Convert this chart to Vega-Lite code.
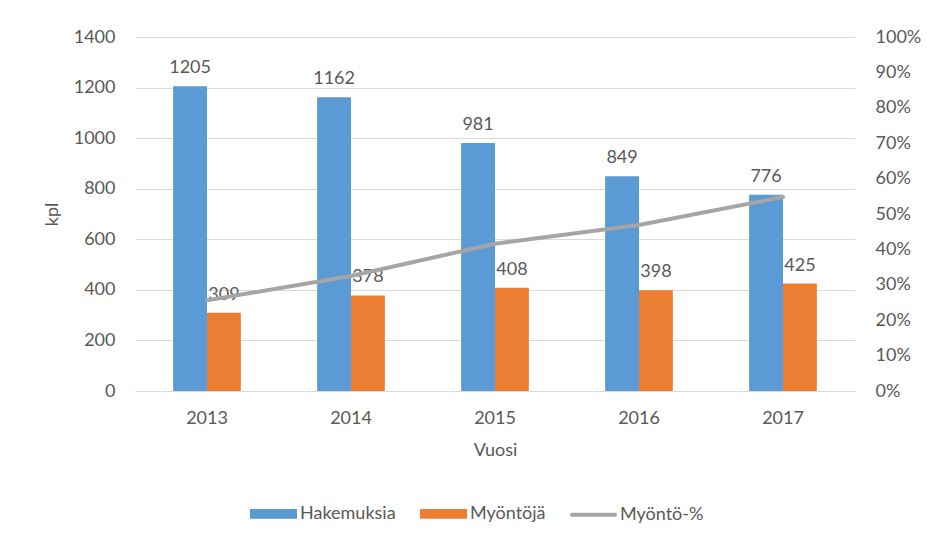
{
  "$schema": "https://vega.github.io/schema/vega-lite/v6.json",
  "width": 720,
  "height": 354,
  "autosize": {"type": "none"},
  "padding": {"left": 135, "top": 37, "right": 78, "bottom": 146},
  "background": "white",
  "config": {
    "font": "Lato",
    "view": {"stroke": null},
    "axis": {
      "labelFont": "Lato",
      "labelFontSize": 18,
      "labelColor": "#595959",
      "titleFont": "Lato",
      "titleFontSize": 18,
      "titleColor": "#595959",
      "titleFontWeight": "normal",
      "ticks": false,
      "gridColor": "#D9D9D9",
      "domainColor": "#D9D9D9"
    }
  },
  "datasets": {
    "bars": [
      {"vuosi": "2013", "sarja": "Hakemuksia", "kpl": 1205},
      {"vuosi": "2013", "sarja": "Myöntöjä", "kpl": 309},
      {"vuosi": "2014", "sarja": "Hakemuksia", "kpl": 1162},
      {"vuosi": "2014", "sarja": "Myöntöjä", "kpl": 378},
      {"vuosi": "2015", "sarja": "Hakemuksia", "kpl": 981},
      {"vuosi": "2015", "sarja": "Myöntöjä", "kpl": 408},
      {"vuosi": "2016", "sarja": "Hakemuksia", "kpl": 849},
      {"vuosi": "2016", "sarja": "Myöntöjä", "kpl": 398},
      {"vuosi": "2017", "sarja": "Hakemuksia", "kpl": 776},
      {"vuosi": "2017", "sarja": "Myöntöjä", "kpl": 425}
    ],
    "rate": [
      {"vuosi": "2013", "osuus": 0.256},
      {"vuosi": "2014", "osuus": 0.325},
      {"vuosi": "2015", "osuus": 0.416},
      {"vuosi": "2016", "osuus": 0.469},
      {"vuosi": "2017", "osuus": 0.548}
    ]
  },
  "layer": [
    {
      "data": {"name": "bars"},
      "encoding": {
        "x": {
          "field": "vuosi",
          "type": "ordinal",
          "scale": {"paddingInner": 0.53, "paddingOuter": 0.265},
          "axis": {
            "title": "Vuosi",
            "labelAngle": 0,
            "labelPadding": 18,
            "titlePadding": 14,
            "domain": true,
            "grid": false
          }
        },
        "xOffset": {"field": "sarja", "type": "nominal", "sort": ["Hakemuksia", "Myöntöjä"], "scale": {"paddingInner": 0, "paddingOuter": 0}},
        "y": {
          "field": "kpl",
          "type": "quantitative",
          "scale": {"domain": [0, 1400], "nice": false},
          "axis": {
            "title": "kpl",
            "format": "d",
            "values": [0, 200, 400, 600, 800, 1000, 1200, 1400],
            "grid": true,
            "domain": false,
            "labelPadding": 20,
            "titlePadding": 12
          }
        }
      },
      "layer": [
        {
          "mark": {"type": "bar"},
          "encoding": {
            "color": {
              "field": "sarja",
              "type": "nominal",
              "scale": {
                "domain": ["Hakemuksia", "Myöntöjä", "Myöntö-%"],
                "range": ["#5B9BD5", "#ED7D31", "#A5A5A5"]
              },
              "legend": {
                "title": null,
                "orient": "none",
                "legendX": 115,
                "legendY": 453,
                "direction": "horizontal",
                "labelFont": "Lato",
                "labelFontSize": 18,
                "labelColor": "#595959",
                "labelOffset": 3,
                "columnPadding": 18,
                "symbolSize": 1849,
                "symbolType": "M-1,-0.13H1V0.13H-1Z",
                "encode": {
                  "symbols": {
                    "update": {
                      "shape": {"signal": "datum.value === 'Myöntö-%' ? 'stroke' : 'M-1,-0.13H1V0.13H-1Z'"},
                      "fill": {"signal": "datum.value === 'Hakemuksia' ? '#5B9BD5' : datum.value === 'Myöntöjä' ? '#ED7D31' : 'transparent'"},
                      "stroke": {"signal": "datum.value === 'Myöntö-%' ? '#A5A5A5' : 'transparent'"},
                      "strokeWidth": {"value": 4},
                      "strokeCap": {"value": "round"},
                      "opacity": {"value": 1},
                      "fillOpacity": {"value": 1},
                      "size": {"value": 1849}
                    }
                  }
                }
              }
            }
          }
        },
        {
          "mark": {"type": "text", "baseline": "bottom", "dy": -9, "fontSize": 18, "font": "Lato", "color": "#595959"},
          "encoding": {"text": {"field": "kpl", "type": "quantitative", "format": "d"}}
        }
      ]
    },
    {
      "data": {"name": "rate"},
      "mark": {"type": "line", "strokeWidth": 4, "strokeCap": "round"},
      "encoding": {
        "x": {"field": "vuosi", "type": "ordinal"},
        "y": {
          "field": "osuus",
          "type": "quantitative",
          "scale": {"domain": [0, 1], "nice": false},
          "axis": {
            "orient": "right",
            "title": null,
            "format": ".0%",
            "values": [0, 0.1, 0.2, 0.3, 0.4, 0.5, 0.6, 0.7, 0.8, 0.9, 1],
            "grid": false,
            "domain": false,
            "labelPadding": 20
          }
        },
        "color": {"datum": "Myöntö-%"}
      }
    }
  ],
  "resolve": {"scale": {"y": "independent"}}
}
